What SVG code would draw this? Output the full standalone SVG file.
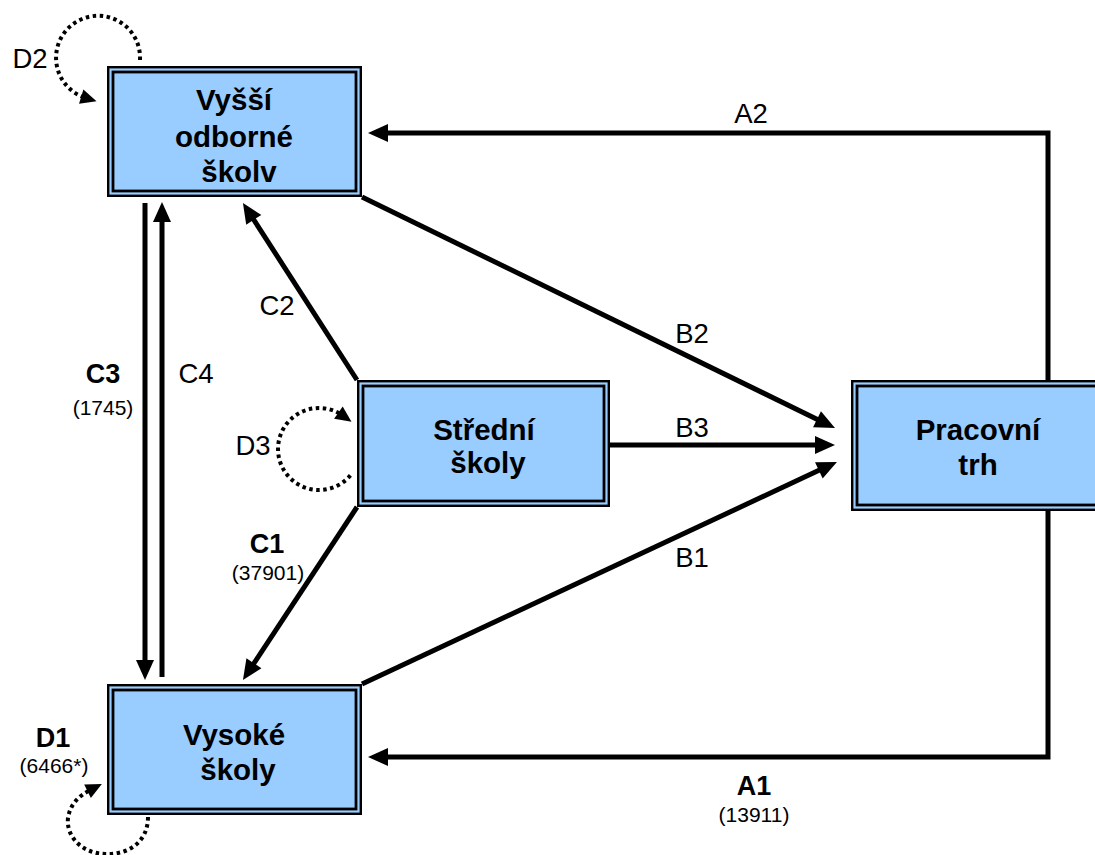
<svg xmlns="http://www.w3.org/2000/svg" width="1095" height="855" viewBox="0 0 1095 855">
<style>
.outer{fill:#99CCFF;stroke:#000;stroke-width:2.4}
.inner{fill:none;stroke:#000;stroke-width:2.8}
.ntxt{font-family:"Liberation Sans",Arial,sans-serif;font-weight:bold;font-size:29.5px;text-anchor:middle;fill:#000}
.lbl{font-family:"Liberation Sans",Arial,sans-serif;font-size:27.5px;text-anchor:middle;fill:#000}
.blbl{font-family:"Liberation Sans",Arial,sans-serif;font-weight:bold;font-size:27px;text-anchor:middle;fill:#000}
.num{font-family:"Liberation Sans",Arial,sans-serif;font-size:21px;text-anchor:middle;fill:#000}
.conn{fill:none;stroke:#000;stroke-width:5;marker-end:url(#arr)}
.loop{fill:none;stroke:#000;stroke-width:4;stroke-dasharray:3.5 3.5;marker-end:url(#darr)}
</style>
<defs>
<marker id="arr" markerUnits="userSpaceOnUse" markerWidth="22" markerHeight="20" refX="9" refY="9" orient="auto" overflow="visible">
<path d="M0,0 L20,9 L0,18 z" fill="#000"/>
</marker>
<marker id="darr" markerUnits="userSpaceOnUse" markerWidth="17" markerHeight="15" refX="5" refY="7.5" orient="auto" overflow="visible">
<path d="M0,0 L16,7.5 L0,15 z" fill="#000"/>
</marker>
</defs>
<rect width="1095" height="855" fill="#fff"/>
<g id="connectors">
<path id="A2" class="conn" d="M1048,380 V133 H379"/>
<path id="A1" class="conn" d="M1048,511 V757 H379"/>
<path id="B2" class="conn" d="M362,197 L825.1,423.2"/>
<path id="B3" class="conn" d="M610,445 H824"/>
<path id="B1" class="conn" d="M362,684 L827,466.6"/>
<path id="C2" class="conn" d="M357,380 L248.9,212.2"/>
<path id="C1" class="conn" d="M357,507 L249,670.8"/>
<path id="C3" class="conn" d="M145,203 V669"/>
<path id="C4" class="conn" d="M162,677 V213"/>
<path id="D2" class="loop" d="M140,60 A42,42 0 1 0 86,98"/>
<path id="D3" class="loop" d="M350.4,475.4 A41,41 0 1 1 342.5,415.4"/>
<path id="D1" class="loop" d="M148,817 C148,843 127,855 105,854 C80,853 66,835 68,818 C70,805 78,796 92,789"/>
</g>
<g id="labels">
<text class="lbl" x="751" y="123">A2</text>
<text class="lbl" x="692" y="343">B2</text>
<text class="lbl" x="692" y="437">B3</text>
<text class="lbl" x="692" y="567">B1</text>
<text class="lbl" x="277" y="315">C2</text>
<text class="lbl" x="196" y="383">C4</text>
<text class="blbl" x="103" y="383">C3</text>
<text class="num" x="103" y="415">(1745)</text>
<text class="blbl" x="267" y="553">C1</text>
<text class="num" x="268" y="580">(37901)</text>
<text class="lbl" x="30" y="68">D2</text>
<text class="lbl" x="253" y="455">D3</text>
<text class="blbl" x="53" y="747">D1</text>
<text class="num" x="54" y="773">(6466*)</text>
<text class="blbl" x="754" y="795">A1</text>
<text class="num" x="754" y="822">(13911)</text>
</g>
<g id="vyssi">
<rect class="outer" x="108.2" y="67.2" width="252.6" height="128.6"/>
<rect class="inner" x="113" y="72" width="243" height="119"/>
<text class="ntxt" x="234" y="110">Vyšší</text>
<text class="ntxt" x="234" y="147">odborné</text>
<text class="ntxt" x="239" y="182">školv</text>
</g>
<g id="stredni">
<rect class="outer" x="358.2" y="381.2" width="250.6" height="124.6"/>
<rect class="inner" x="363" y="386" width="241" height="115"/>
<text class="ntxt" x="484" y="440">Střední</text>
<text class="ntxt" x="488" y="473">školy</text>
</g>
<g id="vysoke">
<rect class="outer" x="108.2" y="685.2" width="252.6" height="128.6"/>
<rect class="inner" x="113" y="690" width="243" height="119"/>
<text class="ntxt" x="234" y="745">Vysoké</text>
<text class="ntxt" x="238" y="780">školy</text>
</g>
<g id="pracovni">
<rect class="outer" x="852.2" y="381.2" width="252.6" height="128.6"/>
<rect class="inner" x="857" y="386" width="243" height="119"/>
<text class="ntxt" x="978" y="440">Pracovní</text>
<text class="ntxt" x="978" y="475">trh</text>
</g>
</svg>
